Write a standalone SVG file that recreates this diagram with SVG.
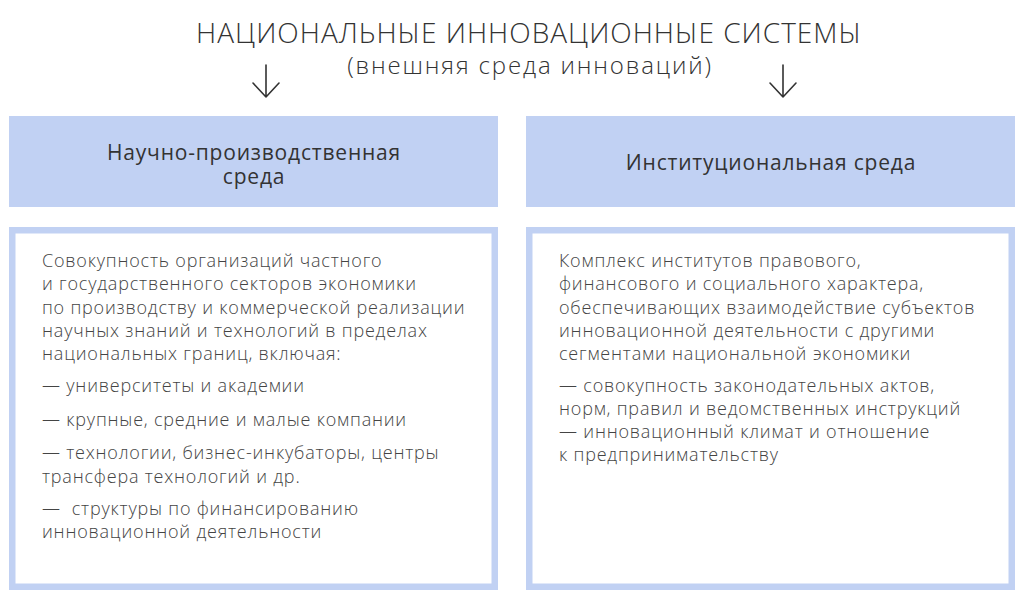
<svg xmlns="http://www.w3.org/2000/svg" width="1024" height="598" viewBox="0 0 1024 598">
<style>
.t{font-family:"Open Sans","Noto Sans",sans-serif;fill:#333;}
.title{font-size:28px;font-weight:300;letter-spacing:1px;}
.sub{font-size:24px;font-weight:300;letter-spacing:1.85px;}
.hdr{font-size:21px;font-weight:400;letter-spacing:0.8px;fill:#333;}
.body{font-size:18px;font-weight:300;letter-spacing:0.8px;fill:#444;}
.hbox{fill:#c1d1f3;}
.cbox{fill:#fff;stroke:#c1d1f3;stroke-width:6.5;}
.arr{fill:none;stroke:#333;stroke-width:1.6;stroke-linecap:round;stroke-linejoin:round;}
</style>
<rect width="1024" height="598" fill="#fff"/>
<g id="title">
<text class="t title" x="529" y="43" text-anchor="middle">НАЦИОНАЛЬНЫЕ ИННОВАЦИОННЫЕ СИСТЕМЫ</text>
<text class="t sub" x="530" y="74" text-anchor="middle">(внешняя среда инноваций)</text>
</g>
<g id="connectors">
<path class="arr" d="M266 65 V97 M253 83 L266 97 L279 83"/>
<path class="arr" d="M783 65 V97 M770 83 L783 97 L796 83"/>
</g>
<g id="header-left">
<rect class="hbox" x="9" y="116" width="489" height="91"/>
<text class="t hdr" text-anchor="middle"><tspan x="254" y="160">Научно-производственная</tspan><tspan x="254" y="184">среда</tspan></text>
</g>
<g id="header-right">
<rect class="hbox" x="526" y="116" width="489" height="91"/>
<text class="t hdr" x="771" y="170" text-anchor="middle">Институциональная среда</text>
</g>
<g id="content-left">
<rect class="cbox" x="12.25" y="230.25" width="482.5" height="356.5"/>
<text class="t body" x="42" y="267">Совокупность организаций частного</text>
<text class="t body" x="42" y="290">и государственного секторов экономики</text>
<text class="t body" x="42" y="314">по производству и коммерческой реализации</text>
<text class="t body" x="42" y="337">научных знаний и технологий в пределах</text>
<text class="t body" x="42" y="360">национальных границ, включая:</text>
<text class="t body" x="42" y="392">— университеты и академии</text>
<text class="t body" x="42" y="426">— крупные, средние и малые компании</text>
<text class="t body" x="42" y="459">— технологии, бизнес-инкубаторы, центры</text>
<text class="t body" x="42" y="483">трансфера технологий и др.</text>
<text class="t body" x="42" y="515" xml:space="preserve">—  структуры по финансированию</text>
<text class="t body" x="42" y="538">инновационной деятельности</text>
</g>
<g id="content-right">
<rect class="cbox" x="529.25" y="230.25" width="482.5" height="356.5"/>
<text class="t body" x="559" y="267">Комплекс институтов правового,</text>
<text class="t body" x="559" y="290">финансового и социального характера,</text>
<text class="t body" x="559" y="314">обеспечивающих взаимодействие субъектов</text>
<text class="t body" x="559" y="337">инновационной деятельности с другими</text>
<text class="t body" x="559" y="360">сегментами национальной экономики</text>
<text class="t body" x="559" y="392">— совокупность законодательных актов,</text>
<text class="t body" x="559" y="415">норм, правил и ведомственных инструкций</text>
<text class="t body" x="559" y="438">— инновационный климат и отношение</text>
<text class="t body" x="559" y="461">к предпринимательству</text>
</g>
</svg>
